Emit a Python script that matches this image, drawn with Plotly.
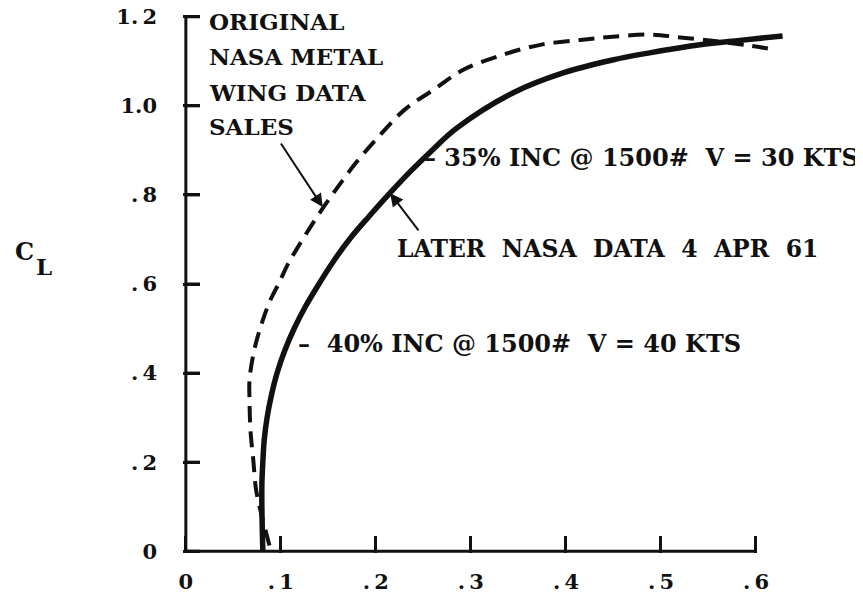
import plotly.graph_objects as go

# drag polar: CD (x) vs CL (y)
later_cd = [0.081, 0.080, 0.080, 0.081, 0.0825, 0.0855, 0.090, 0.096, 0.104, 0.114, 0.126,
            0.140, 0.155, 0.172, 0.192, 0.213, 0.235, 0.259, 0.285, 0.344, 0.397, 0.449,
            0.488, 0.541, 0.583, 0.628]
later_cl = [0.000, 0.100, 0.150, 0.200, 0.250, 0.300, 0.350, 0.400, 0.450, 0.500, 0.550,
            0.600, 0.650, 0.700, 0.750, 0.800, 0.850, 0.900, 0.950, 1.029, 1.074, 1.103,
            1.119, 1.137, 1.147, 1.157]

orig_cd = [0.088, 0.081, 0.074, 0.071, 0.068, 0.067, 0.067, 0.072, 0.081, 0.089, 0.098,
           0.107, 0.116, 0.129, 0.145, 0.160, 0.179, 0.2025, 0.230, 0.2605, 0.292, 0.334,
           0.373, 0.415, 0.449, 0.488, 0.523, 0.562, 0.594, 0.620]
orig_cl = [0.013, 0.070, 0.137, 0.204, 0.272, 0.339, 0.384, 0.452, 0.519, 0.564, 0.602,
           0.643, 0.676, 0.721, 0.773, 0.818, 0.872, 0.930, 0.991, 1.036, 1.081, 1.115,
           1.137, 1.148, 1.155, 1.160, 1.153, 1.144, 1.135, 1.126]

x_ticks = [0, 0.1, 0.2, 0.3, 0.4, 0.5, 0.6]
x_labels = ["0", ".\u20091", ".\u20092", ".\u20093", ".\u20094", ".\u20095", ".\u20096"]
y_ticks = [0, 0.2, 0.4, 0.6, 0.8, 1.0, 1.2]
y_labels = ["0", ".\u20092", ".\u20094", ".\u20096", ".\u20098", "1.0", "1.\u20092"]

sales_lines = ["ORIGINAL", "NASA METAL", "WING DATA", "SALES"]
sales_line_cl = [1.189, 1.110, 1.031, 0.953]

ink = "#111111"
serif = "DejaVu Serif"
sp = "\u00a0"

fig = go.Figure()

fig.add_trace(go.Scatter(x=orig_cd, y=orig_cl, mode="lines", line_shape="spline",
                         line=dict(color=ink, width=4, dash="16px,9px", smoothing=1),
                         hoverinfo="skip", showlegend=False))
fig.add_trace(go.Scatter(x=later_cd, y=later_cl, mode="lines", line_shape="spline",
                         line=dict(color=ink, width=5.5, smoothing=1),
                         hoverinfo="skip", showlegend=False))

# y ticks doubled as one-sided error bars off x = 0, same reach as the axis ticks
fig.add_trace(go.Scatter(x=[0] * len(y_ticks), y=y_ticks, mode="markers",
                         marker=dict(size=1, color="rgba(0,0,0,0)"),
                         error_x=dict(type="constant", value=0.0148, valueminus=0,
                                      symmetric=False, width=0, thickness=3, color=ink),
                         hoverinfo="skip", showlegend=False))

# axis lines stop at .6 and 1.2 while the curves run past
fig.add_shape(type="line", x0=0, x1=0.6, y0=0, y1=0, line=dict(color=ink, width=3))
fig.add_shape(type="line", x0=0, x1=0, y0=0, y1=1.2, line=dict(color=ink, width=3))

txt = dict(family=serif, size=24, color=ink, weight="bold")

for line, cl in zip(sales_lines, sales_line_cl):
    fig.add_annotation(x=0.022, y=cl, xref="x", yref="y", xanchor="left", yanchor="middle",
                       showarrow=False, font=dict(txt, size=23), text=line)
fig.add_annotation(x=0.144, y=0.773, ax=0.099, ay=0.919, xref="x", yref="y",
                   axref="x", ayref="y", text="", showarrow=True,
                   arrowhead=2, arrowsize=1.3, arrowwidth=2, arrowcolor=ink)

fig.add_annotation(x=0.248, y=0.883, xref="x", yref="y", xanchor="left", yanchor="middle",
                   showarrow=False, font=txt,
                   text="–" + sp + "35% INC @ 1500#" + sp * 2 + "V = 30 KTS")

fig.add_annotation(x=0.220, y=0.679, xref="x", yref="y", xanchor="left", yanchor="middle",
                   showarrow=False, font=dict(txt, size=23.5),
                   text=(sp * 2).join(["LATER", "NASA", "DATA", "4", "APR", "61"]))
fig.add_annotation(x=0.215, y=0.804, ax=0.246, ay=0.717, xref="x", yref="y",
                   axref="x", ayref="y", text="", showarrow=True,
                   arrowhead=2, arrowsize=1.3, arrowwidth=2, arrowcolor=ink)

fig.add_annotation(x=0.116, y=0.466, xref="x", yref="y", xanchor="left", yanchor="middle",
                   showarrow=False, font=txt,
                   text="–" + sp * 2 + "40% INC @ 1500#" + sp * 2 + "V = 40 KTS")

# axis title C with a full-size subscript L
fig.add_annotation(x=-0.260, y=0.672, xref="paper", yref="y", xanchor="center",
                   showarrow=False, font=txt, text="C")
fig.add_annotation(x=-0.2275, y=0.640, xref="paper", yref="y", xanchor="center",
                   showarrow=False, font=dict(txt, size=23), text="L")

fig.update_xaxes(range=[-0.003, 0.64], tickvals=x_ticks, ticktext=x_labels,
                 ticks="inside", ticklen=17, tickwidth=3, tickcolor=ink,
                 showgrid=False, zeroline=False, showline=False, automargin=False,
                 ticklabelstandoff=14, ticklabeloverflow="allow",
                 tickfont=dict(family=serif, size=21, color=ink, weight="bold"))
fig.update_yaxes(range=[-0.004, 1.204], tickvals=y_ticks, ticktext=y_labels,
                 ticks="inside", ticklen=17, tickwidth=3, tickcolor=ink,
                 showgrid=False, zeroline=False, showline=False, automargin=False,
                 ticklabelstandoff=25, ticklabeloverflow="allow",
                 tickfont=dict(family=serif, size=21, color=ink, weight="bold"))

# page body adds an 8px offset, so the figure is 8px smaller than the window
fig.update_layout(width=855, height=587, template="plotly_white",
                  paper_bgcolor="white", plot_bgcolor="white",
                  margin=dict(l=175, r=69, t=7, b=42))

fig.write_html("out.html")
